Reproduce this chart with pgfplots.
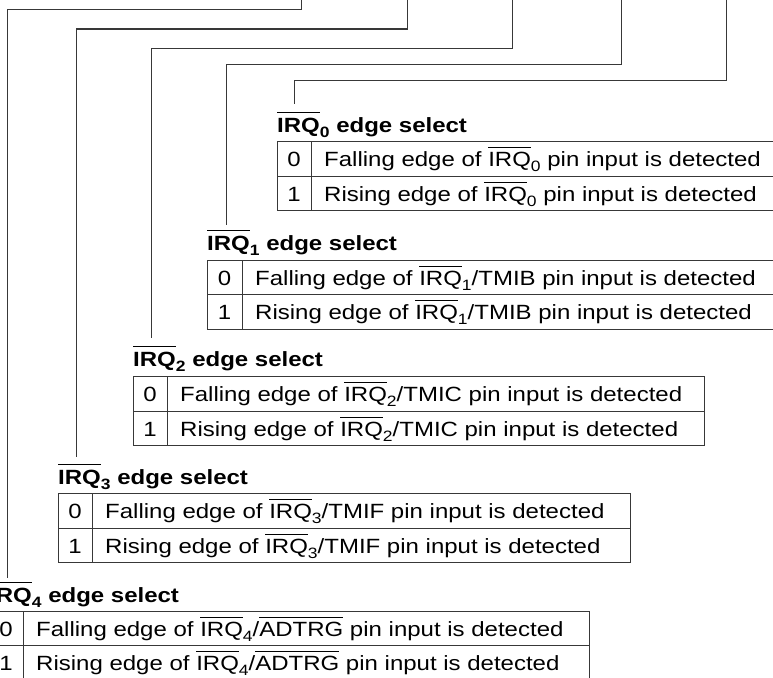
\documentclass[border=0pt]{standalone}
\usepackage{pgfplots}
\pgfplotsset{compat=1.18}
\usepackage{fontspec}
\setmainfont{Liberation Sans}[FakeStretch=1.165]
\newcommand\ovl[2][4pt]{\leavevmode\vbox{\hrule height 1pt\kern#1\hbox{#2}}}
\newcommand\sub[1]{\raisebox{-5.5pt}{\fontsize{15}{15}\selectfont #1}}
\tikzset{txt/.style={font=\fontsize{20.6}{24}\selectfont,inner sep=0pt},
  ttl/.style={font=\fontsize{20.6}{24}\selectfont\bfseries,inner sep=0pt,anchor=base west},
  ln/.style={draw=black!78,line width=1pt,mark=none,solid,line cap=rect}}
\begin{document}
\begin{tikzpicture}
\begin{axis}[x=1pt,y=1pt,xmin=0,xmax=773,ymin=0,ymax=677,y dir=reverse,
  enlargelimits=false,hide axis,clip=false]
% leader lines
\addplot[ln] coordinates {(301,-2) (301,10) (7,10) (7,577)};
\addplot[ln] coordinates {(407,-2) (407,29) (76,29) (76,456)};
\addplot[ln] coordinates {(512,-2) (512,48) (151,48) (151,337)};
\addplot[ln] coordinates {(621,-2) (621,64) (226,64) (226,224)};
\addplot[ln] coordinates {(726,-2) (726,80) (294,80) (294,103)};
% IRQ0 table
\addplot[ln] coordinates {(277,141) (790,141) (790,210) (277,210) (277,141)};
\addplot[ln] coordinates {(277,176) (790,176)};
\addplot[ln] coordinates {(311,141) (311,210)};
% IRQ1 table
\addplot[ln] coordinates {(207,260) (790,260) (790,329) (207,329) (207,260)};
\addplot[ln] coordinates {(207,294) (790,294)};
\addplot[ln] coordinates {(242,260) (242,329)};
% IRQ2 table
\addplot[ln] coordinates {(133,376) (704,376) (704,445) (133,445) (133,376)};
\addplot[ln] coordinates {(133,411) (704,411)};
\addplot[ln] coordinates {(167,376) (167,445)};
% IRQ3 table
\addplot[ln] coordinates {(58,493) (630,493) (630,562) (58,562) (58,493)};
\addplot[ln] coordinates {(58,528) (630,528)};
\addplot[ln] coordinates {(92,493) (92,562)};
% IRQ4 table
\addplot[ln] coordinates {(-11,611) (589,611) (589,690) (-11,690) (-11,611)};
\addplot[ln] coordinates {(-11,645) (589,645)};
\addplot[ln] coordinates {(23,611) (23,690)};
% titles
\node[ttl] at (axis cs:277,132) {\ovl[5pt]{IRQ}\sub{\bfseries 0} edge select};
\node[ttl] at (axis cs:207,250) {\ovl[5pt]{IRQ}\sub{\bfseries 1} edge select};
\node[ttl] at (axis cs:133,366) {\ovl[5pt]{IRQ}\sub{\bfseries 2} edge select};
\node[ttl] at (axis cs:58,484) {\ovl[5pt]{IRQ}\sub{\bfseries 3} edge select};
\node[ttl] at (axis cs:-11,602) {\ovl[5pt]{IRQ}\sub{\bfseries 4} edge select};
% digits
\node[txt,anchor=base] at (axis cs:294,166) {0};
\node[txt,anchor=base] at (axis cs:294,201) {1};
\node[txt,anchor=base] at (axis cs:224.5,285) {0};
\node[txt,anchor=base] at (axis cs:224.5,319) {1};
\node[txt,anchor=base] at (axis cs:150,401) {0};
\node[txt,anchor=base] at (axis cs:150,436) {1};
\node[txt,anchor=base] at (axis cs:75,518) {0};
\node[txt,anchor=base] at (axis cs:75,553) {1};
\node[txt,anchor=base] at (axis cs:6,636) {0};
\node[txt,anchor=base] at (axis cs:6,670) {1};
% row texts
\node[txt,anchor=base west] at (axis cs:324,166) {Falling edge of \ovl{IRQ}\sub{0} pin input is detected};
\node[txt,anchor=base west] at (axis cs:324,201) {Rising edge of \ovl{IRQ}\sub{0} pin input is detected};
\node[txt,anchor=base west] at (axis cs:255,285) {Falling edge of \ovl{IRQ}\sub{1}/TMIB pin input is detected};
\node[txt,anchor=base west] at (axis cs:255,319) {Rising edge of \ovl{IRQ}\sub{1}/TMIB pin input is detected};
\node[txt,anchor=base west] at (axis cs:180,401) {Falling edge of \ovl{IRQ}\sub{2}/TMIC pin input is detected};
\node[txt,anchor=base west] at (axis cs:180,436) {Rising edge of \ovl{IRQ}\sub{2}/TMIC pin input is detected};
\node[txt,anchor=base west] at (axis cs:105,518) {Falling edge of \ovl{IRQ}\sub{3}/TMIF pin input is detected};
\node[txt,anchor=base west] at (axis cs:105,553) {Rising edge of \ovl{IRQ}\sub{3}/TMIF pin input is detected};
\node[txt,anchor=base west] at (axis cs:36,636) {Falling edge of \ovl{IRQ}\sub{4}/\ovl{ADTRG} pin input is detected};
\node[txt,anchor=base west] at (axis cs:36,670) {Rising edge of \ovl{IRQ}\sub{4}/\ovl{ADTRG} pin input is detected};
\end{axis}
\pgfresetboundingbox
\path (current axis.south west) rectangle (current axis.north east);
\end{tikzpicture}
\end{document}
